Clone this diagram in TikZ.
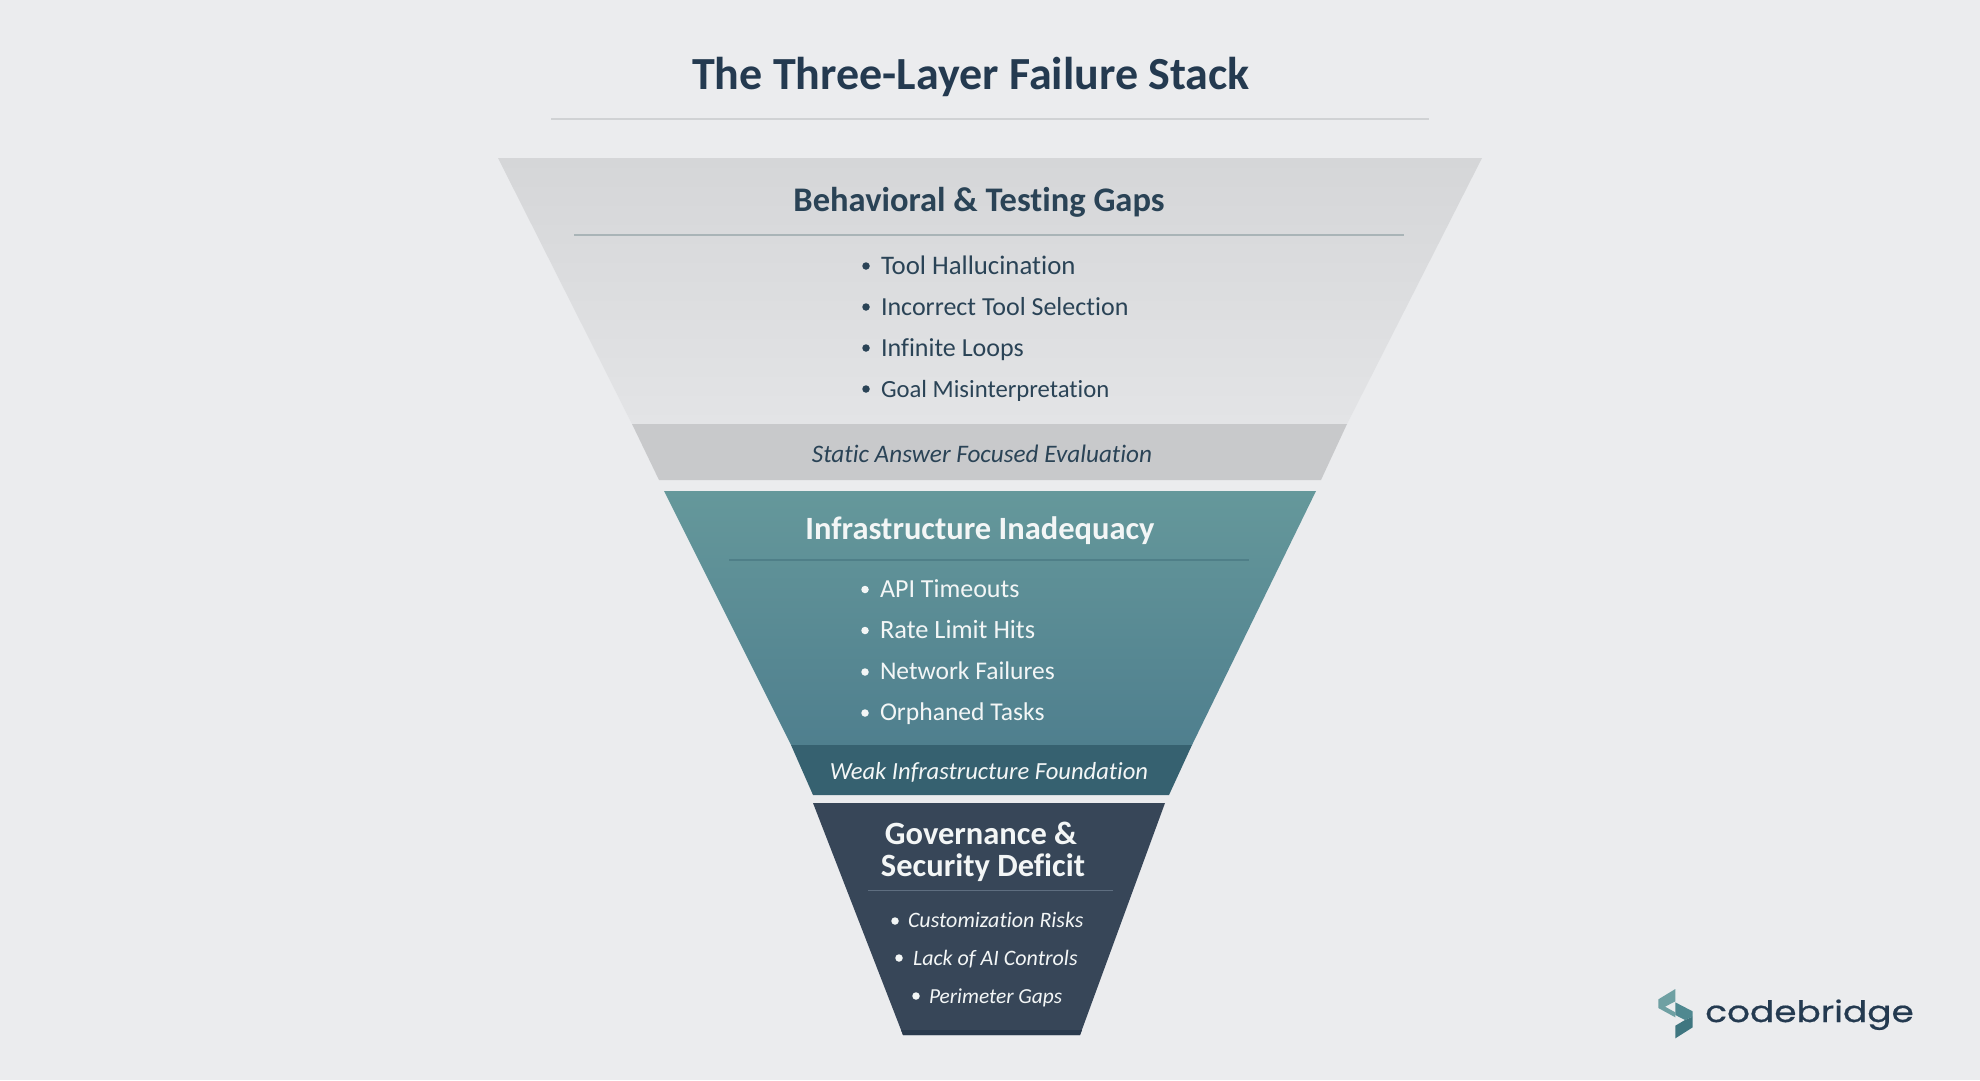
\documentclass[tikz,border=0pt]{standalone}
\usepackage{fontspec}
\setmainfont[Ligatures=NoCommon]{Carlito}
\newfontfamily\logofont[FakeBold=0.6]{Poppins}
\definecolor{bgc}{HTML}{EBECEE}
\definecolor{ink}{HTML}{243A50}
\definecolor{inkb}{HTML}{2A4356}
\definecolor{rulea}{HTML}{D0D2D4}
\definecolor{ruleb}{HTML}{A9B4B7}
\definecolor{rulec}{HTML}{4F7F88}
\definecolor{ruled}{HTML}{5E6E80}
\definecolor{graya}{HTML}{D5D6D8}
\definecolor{grayb}{HTML}{E3E4E6}
\definecolor{grays}{HTML}{C8C9CB}
\definecolor{teala}{HTML}{65989B}
\definecolor{tealb}{HTML}{4F7F8E}
\definecolor{teals}{HTML}{366170}
\definecolor{navy}{HTML}{374658}
\definecolor{navyd}{HTML}{2A3A4D}
\definecolor{whitish}{HTML}{F3F6F6}
\definecolor{logoa}{HTML}{6FA0A3}
\definecolor{logob}{HTML}{4F8890}
\definecolor{logoc}{HTML}{3F7680}
\tikzset{
  x=1pt,y=-1pt,
  txt/.style={inner sep=0pt,outer sep=0pt,anchor=base west},
  ctxt/.style={inner sep=0pt,outer sep=0pt,anchor=base},
  bodyfont/.style={font=\fontsize{#1}{28}\selectfont},
  bodyfont/.default=26,
  dark/.style={text=inkb},
  light/.style={text=whitish},
  headfont/.style={font=\bfseries\fontsize{32.5}{36}\selectfont},
  headfontb/.style={font=\bfseries\fontsize{34.5}{36}\selectfont},
  dot/.style={circle,inner sep=0pt,minimum size=7.5pt},
  itfont/.style={font=\itshape\fontsize{#1}{27}\selectfont},
  itfont/.default=25.2,
  smallit/.style={font=\itshape\fontsize{22}{24}\selectfont},
}
\begin{document}
\begin{tikzpicture}
\useasboundingbox (0,0) rectangle (1980,1080);
\fill[bgc] (0,0) rectangle (1980,1080);

% title
\node[ctxt,text=ink,font=\bfseries\fontsize{46}{50}\selectfont] (title) at (971,89) {The Three-Layer Failure Stack};
\coordinate (ta) at (551,119); \coordinate (tb) at (1429,119);
\draw[rulea,line width=1.5pt] (ta) -- (tb);

% band 1
\shade[top color=graya,bottom color=grayb] (498,158) -- (1482,158) -- (1347,424) -- (632,424) -- cycle;
\fill[grays] (632,424) -- (1347,424) -- (1321,480) -- (659,480) -- cycle;
\node[ctxt,dark,headfontb] (h1) at (979,211) {Behavioral \& Testing Gaps};
\coordinate (r1a) at (574,235); \coordinate (r1b) at (1404,235);
\draw[ruleb,line width=1.2pt] (r1a) -- (r1b);
\node[txt,dark,bodyfont=26.8] (a1) at (881,274) {Tool Hallucination};
\node[txt,dark,bodyfont] (a2) at (881,315) {Incorrect Tool Selection};
\node[txt,dark,bodyfont] (a3) at (881,356) {Infinite Loops};
\node[txt,dark,bodyfont=24.7] (a4) at (881,397) {Goal Misinterpretation};
\node[dot,fill=inkb] (ad1) at (866,266) {};
\node[dot,fill=inkb] (ad2) at (866,307) {};
\node[dot,fill=inkb] (ad3) at (866,348) {};
\node[dot,fill=inkb] (ad4) at (866,389) {};
\node[ctxt,dark,itfont] (s1) at (982,462) {Static Answer Focused Evaluation};

% band 2
\shade[top color=teala,bottom color=tealb] (664,491) -- (1316,491) -- (1192,745) -- (791,745) -- cycle;
\fill[teals] (791,745) -- (1192,745) -- (1169,795) -- (813,795) -- cycle;
\node[ctxt,light,headfont] (h2) at (980,539) {Infrastructure Inadequacy};
\coordinate (r2a) at (729,560); \coordinate (r2b) at (1249,560);
\draw[rulec,line width=1.2pt] (r2a) -- (r2b);
\node[txt,light,bodyfont] (b1) at (880,597) {API Timeouts};
\node[txt,light,bodyfont=26.4] (b2) at (880,638) {Rate Limit Hits};
\node[txt,light,bodyfont=25.5] (b3) at (880,679) {Network Failures};
\node[txt,light,bodyfont=25.6] (b4) at (880,720) {Orphaned Tasks};
\node[dot,fill=whitish] (bd1) at (865,589.5) {};
\node[dot,fill=whitish] (bd2) at (865,630.5) {};
\node[dot,fill=whitish] (bd3) at (865,672) {};
\node[dot,fill=whitish] (bd4) at (865,713) {};
\node[ctxt,light,itfont=24.6] (s2) at (989,779) {Weak Infrastructure Foundation};

% band 3
\fill[navy] (813,803) -- (1165,803) -- (1080,1035) -- (903,1035) -- cycle;
\fill[navyd] (901,1030) -- (1082,1030) -- (1080,1035) -- (903,1035) -- cycle;
\node[ctxt,light,headfont] (h3a) at (981,844) {Governance \&};
\node[ctxt,light,headfont] (h3b) at (983,876) {Security Deficit};
\coordinate (r3a) at (868,890); \coordinate (r3b) at (1113,890);
\draw[ruled,line width=1pt] (r3a) -- (r3b);
\node[txt,light,smallit] (c1) at (908,927) {Customization Risks};
\node[txt,light,smallit] (c2) at (913,965) {Lack of AI Controls};
\node[txt,light,font=\itshape\fontsize{21.4}{24}\selectfont] (c3) at (929,1003.5) {Perimeter Gaps};
\node[dot,fill=whitish] (cd1) at (895,921) {};
\node[dot,fill=whitish] (cd2) at (899,958) {};
\node[dot,fill=whitish] (cd3) at (916,996) {};

% logo
\begin{scope}[shift={(1650,984)},x=0.3333pt,y=-0.3333pt]
\fill[logoa] (76,15) -- (25,46) -- (25,72) -- (76,100) -- (76,85) -- (45,68) -- (76,52) -- cycle;
\fill[logob] (76,55) -- (128,82) -- (128,98) -- (105,108) -- (76,93) -- cycle;
\fill[logoc] (128,98) -- (128,130) -- (76,163) -- (76,125) -- (105,108) -- cycle;
\end{scope}
\node[ctxt,text=ink] (logo) at (1809.5,1022) {\scalebox{0.97}[0.8]{\logofont\fontsize{37}{40}\selectfont codebridge}};
\end{tikzpicture}
\end{document}
